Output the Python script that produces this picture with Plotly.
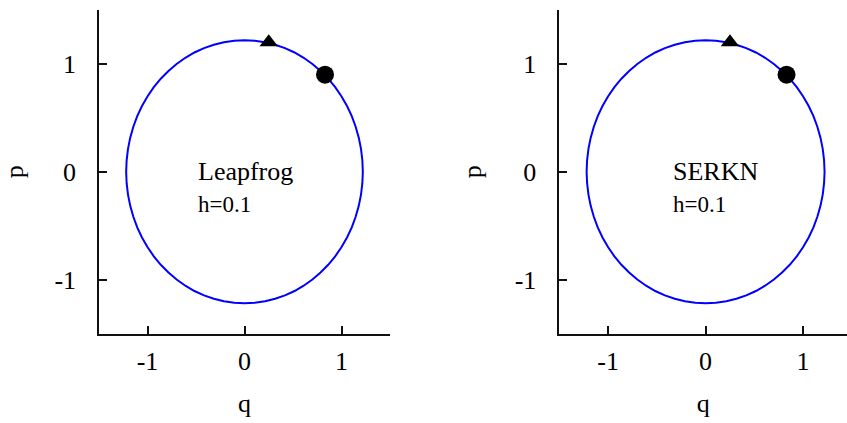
import plotly.graph_objects as go

# Phase-space orbit (q, p) for the two integrators, step h = 0.1
orbit_q = [1.220, 1.215, 1.201, 1.178, 1.146, 1.106, 1.057, 0.999, 0.935, 0.863,
           0.784, 0.700, 0.610, 0.516, 0.417, 0.316, 0.212, 0.106, 0.000,
           -0.106, -0.212, -0.316, -0.417, -0.516, -0.610, -0.700, -0.784, -0.863,
           -0.935, -0.999, -1.057, -1.106, -1.146, -1.178, -1.201, -1.215, -1.220,
           -1.215, -1.201, -1.178, -1.146, -1.106, -1.057, -0.999, -0.935, -0.863,
           -0.784, -0.700, -0.610, -0.516, -0.417, -0.316, -0.212, -0.106, 0.000,
           0.106, 0.212, 0.316, 0.417, 0.516, 0.610, 0.700, 0.784, 0.863,
           0.935, 0.999, 1.057, 1.106, 1.146, 1.178, 1.201, 1.215, 1.220]
orbit_p = [0.000, 0.106, 0.212, 0.316, 0.417, 0.516, 0.610, 0.700, 0.784, 0.863,
           0.935, 0.999, 1.057, 1.106, 1.146, 1.178, 1.201, 1.215, 1.220,
           1.215, 1.201, 1.178, 1.146, 1.106, 1.057, 0.999, 0.935, 0.863,
           0.784, 0.700, 0.610, 0.516, 0.417, 0.316, 0.212, 0.106, 0.000,
           -0.106, -0.212, -0.316, -0.417, -0.516, -0.610, -0.700, -0.784, -0.863,
           -0.935, -0.999, -1.057, -1.106, -1.146, -1.178, -1.201, -1.215, -1.220,
           -1.215, -1.201, -1.178, -1.146, -1.106, -1.057, -0.999, -0.935, -0.863,
           -0.784, -0.700, -0.610, -0.516, -0.417, -0.316, -0.212, -0.106, 0.000]

# Start (triangle) and end (circle) states
start_q, start_p = [0.25], [1.20]
end_q, end_p = [0.83], [0.90]

methods = ["Leapfrog", "SERKN"]
step_label = "h=0.1"
label_x = [-0.50, -0.35]

tick_vals = [-1, 0, 1]
tick_text = ["-1", "0", "1"]

FONT = "Liberation Serif"
AX = "#111111"

fig = go.Figure()

for i, name in enumerate(methods):
    xa = "x" if i == 0 else "x2"
    ya = "y" if i == 0 else "y2"
    fig.add_trace(go.Scatter(x=orbit_q, y=orbit_p, mode="lines",
                             line=dict(color="#0000ff", width=2),
                             xaxis=xa, yaxis=ya, showlegend=False, hoverinfo="skip"))
    fig.add_trace(go.Scatter(x=start_q, y=start_p, mode="markers",
                             marker=dict(symbol="triangle-up", size=16, color="black"),
                             xaxis=xa, yaxis=ya, showlegend=False))
    fig.add_trace(go.Scatter(x=end_q, y=end_p, mode="markers",
                             marker=dict(symbol="circle", size=18, color="black"),
                             xaxis=xa, yaxis=ya, showlegend=False))
    fig.add_annotation(x=label_x[i], y=0.0, xref=xa, yref=ya, text=name, showarrow=False,
                       xanchor="left", yanchor="middle", font=dict(family=FONT, size=26, color="black"))
    fig.add_annotation(x=label_x[i], y=-0.30, xref=xa, yref=ya, text=step_label, showarrow=False,
                       xanchor="left", yanchor="middle", font=dict(family=FONT, size=23, color="black"))

axis_common = dict(
    showline=True, linecolor=AX, linewidth=1.5, mirror=False,
    ticks="inside", ticklen=8, tickwidth=1.5, tickcolor=AX,
    tickvals=tick_vals, ticktext=tick_text,
    showgrid=False, zeroline=False,
    tickfont=dict(family=FONT, size=26, color="black"),
)
title_font = dict(family=FONT, size=26, color="black")

fig.update_layout(
    width=847, height=423,
    margin=dict(l=0, r=0, t=0, b=0),
    paper_bgcolor="white", plot_bgcolor="white",
    xaxis=dict(domain=[99 / 847, 390 / 847], range=[-1.5, 1.5], anchor="y",
               title=dict(text="q", font=title_font, standoff=18),
               ticklabelstandoff=4, **axis_common),
    yaxis=dict(domain=[1 - 333.5 / 423, 1 - 10 / 423], range=[-1.5, 1.5], anchor="x",
               title=dict(text="p", font=title_font, standoff=26),
               ticklabelstandoff=16, **axis_common),
    xaxis2=dict(domain=[559.3 / 847, 1.0], range=[-1.5, 1.45], anchor="y2",
                title=dict(text="q", font=title_font, standoff=18),
                ticklabelstandoff=4, **axis_common),
    yaxis2=dict(domain=[1 - 333.5 / 423, 1 - 10 / 423], range=[-1.5, 1.5], anchor="x2",
                title=dict(text="p", font=title_font, standoff=26),
                ticklabelstandoff=16, **axis_common),
)

fig.write_html("out.html")
